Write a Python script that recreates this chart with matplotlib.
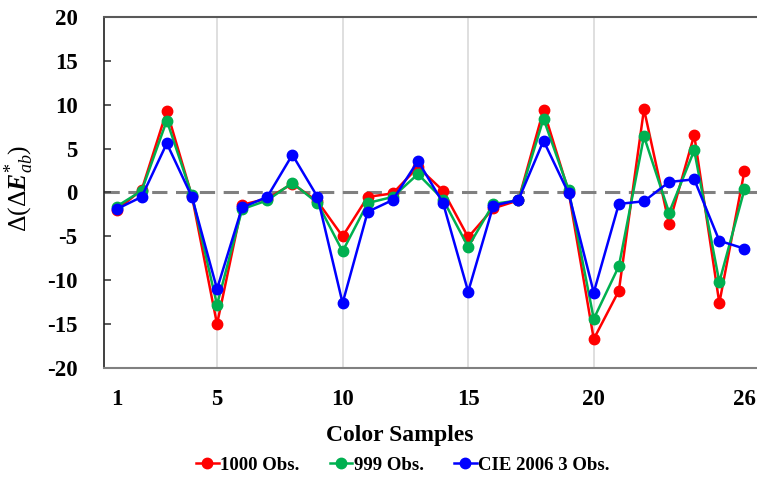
import numpy as np
import matplotlib.pyplot as plt

plt.rcParams['font.family'] = ['Liberation Serif', 'DejaVu Serif']
plt.rcParams['mathtext.fontset'] = 'custom'
plt.rcParams['mathtext.rm'] = 'Liberation Serif'
plt.rcParams['mathtext.it'] = 'Liberation Serif:italic'
plt.rcParams['mathtext.bf'] = 'Liberation Serif:bold:italic'
plt.rcParams['axes.unicode_minus'] = False

samples = np.arange(1, 27)
obs_1000 = [-2.0, 0.3, 9.3, -0.4, -15.0, -1.4, -0.7, 1.0, -1.0, -5.0,
            -0.5, -0.1, 2.9, 0.2, -5.1, -1.8, -0.9, 9.4, 0.1, -16.7,
            -11.2, 9.5, -3.6, 6.55, -12.6, 2.45]
obs_999 = [-1.6, 0.2, 8.2, -0.3, -12.8, -1.9, -0.9, 1.1, -1.2, -6.7,
           -1.2, -0.5, 2.1, -0.8, -6.2, -1.3, -0.9, 8.4, 0.3, -14.4,
           -8.4, 6.4, -2.3, 4.8, -10.2, 0.35]
obs_cie = [-1.9, -0.5, 5.6, -0.5, -11.0, -1.7, -0.5, 4.3, -0.5, -12.6,
           -2.2, -0.85, 3.6, -1.2, -11.3, -1.5, -0.85, 5.9, -0.1, -11.4,
           -1.3, -1.0, 1.2, 1.5, -5.5, -6.4]
labels = ['1000 Obs.', '999 Obs.', 'CIE 2006 3 Obs.']
colors = ['#ff0000', '#00b050', '#0000ff']
xticks = [1, 5, 10, 15, 20, 26]
yticks = np.arange(-20, 25, 5)

fig = plt.figure(figsize=(7.57, 4.79), dpi=100)
ax = fig.add_axes([104 / 757, 1 - 368 / 479, 1 - 104 / 757, (368 - 17) / 479])

for x in [5, 10, 15, 20]:
    ax.axvline(x, color='#d9d9d9', lw=1.2, zorder=0)
ax.axhline(0, color='#808080', lw=2.2, ls=(0, (5, 2.8)), zorder=1)

for vals, lab, col in zip([obs_1000, obs_999, obs_cie], labels, colors):
    ax.plot(samples, vals, color=col, lw=1.8, marker='o', ms=7.5, label=lab, zorder=3)

ax.set_xlim(0.5, 26.5)
ax.set_ylim(-20, 20)
ax.set_xticks(xticks)
ax.set_yticks(yticks)
ax.tick_params(axis='x', length=0, pad=15, labelsize=16.5)
ax.tick_params(axis='y', direction='in', length=5, width=1.2, color='#404040', pad=19, labelsize=16.5)
for t in ax.get_xticklabels() + ax.get_yticklabels():
    t.set_fontweight('bold')

ax.spines['right'].set_visible(False)
ax.spines['top'].set_color('#595959')
ax.spines['top'].set_linewidth(1.5)
ax.spines['left'].set_color('#202020')
ax.spines['left'].set_linewidth(1.2)
ax.spines['bottom'].set_color('#808080')
ax.spines['bottom'].set_linewidth(1.5)

# y label: bold italic E with italic subscript
fig.text(19 / 757, 1 - 188 / 479, r'$\Delta(\Delta \mathbf{E}^{*}_{\mathit{ab}})$',
         rotation=90, ha='center', va='center', fontsize=18.5)
fig.text(400 / 757, 1 - 435 / 479, 'Color Samples', ha='center', va='center',
         fontsize=17, fontweight='bold')

fig.legend(loc='center', bbox_to_anchor=(403 / 757, 1 - 465 / 479), ncol=3, frameon=False,
           prop={'weight': 'bold', 'size': 13.5}, handlelength=1.2, handletextpad=0.1,
           columnspacing=1.6, markerscale=1.0)

fig.savefig('out.png', dpi=100)
